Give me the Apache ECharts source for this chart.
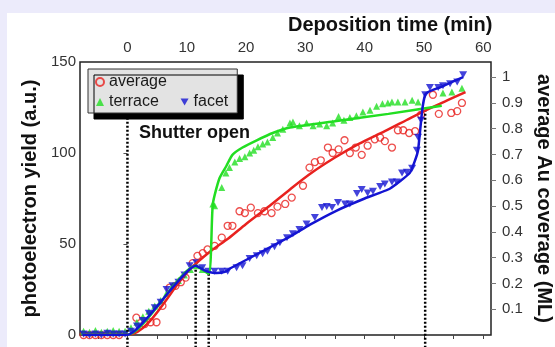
<!DOCTYPE html>
<html>
<head>
<meta charset="utf-8">
<script src="https://cdn.jsdelivr.net/npm/echarts@6/dist/echarts.min.js"></script>
<style>
html, body { margin: 0; padding: 0; background: #ecebfb; }
#panel { position: absolute; left: 7px; top: 13px; width: 548px; height: 334px; background: #fff; }
#chart { position: absolute; left: 0; top: 0; width: 555px; height: 347px; }
</style>
</head>
<body>
<div id="panel"></div>
<div id="chart"></div>
<script>
// measured points [time (min), yield (a.u.)]
var avg_points = [
    [-7.4, 0], [-6.4, 0], [-5.4, 0], [-4.4, 0], [-3.4, 0], [-2.4, 0], [-1.4, 0],
    [1.5, 9.5], [2.9, 6], [3.9, 7], [4.9, 7], [5.9, 16], [7.1, 26], [8.1, 27], [9, 29],
    [9.8, 31.5], [11, 39.5], [11.8, 43.5], [12.7, 45], [13.5, 47], [14.7, 49], [15.9, 53.5],
    [16.9, 60], [17.7, 60], [18.9, 68], [19.8, 67], [20.8, 70], [22, 67], [23.1, 68],
    [24.3, 67], [25.3, 70.5], [26.6, 72], [27.7, 75.5], [29.6, 82], [30.7, 92], [31.6, 95],
    [32.6, 96], [33.8, 103], [34.6, 100], [35.6, 102], [36.6, 107], [37.5, 100], [38.5, 103],
    [39.5, 99], [40.5, 104], [41.7, 107.5], [42.6, 108.5], [43.4, 106.5], [44.6, 103],
    [45.6, 112.5], [46.5, 112.5], [47.5, 111], [48.5, 112], [49.5, 121], [51.5, 132],
    [52.5, 121.5], [54.6, 122], [55.6, 123], [56.4, 127.5]
];
var terrace_points = [
    [-7.4, 2], [-6.4, 1.5], [-5.4, 2.5], [-4.4, 1.5], [-3.4, 2], [-2.4, 2.5], [-1.4, 2], [-0.4, 2],
    [0.6, 4], [1.6, 7], [2.6, 10], [3.6, 13], [4.6, 16], [5.6, 19], [6.6, 23], [7.6, 27],
    [8.6, 30], [9.6, 33], [10.6, 36], [11.6, 38], [12.6, 36], [14.4, 72], [14.7, 71],
    [15.9, 81], [16.6, 89], [17.2, 92], [18.1, 95], [18.9, 97], [19.8, 98], [20.6, 100],
    [21.3, 101.5], [22, 103.5], [22.8, 105], [23.6, 106], [24.5, 108.5], [25.3, 111],
    [26.2, 113], [27.4, 116.5], [27.9, 117], [29, 115], [30.2, 116.5], [31.3, 115],
    [32.4, 116], [33.6, 115], [34.6, 116.5], [35.6, 120], [36.5, 118], [37.5, 119.5],
    [38.6, 120.5], [39.7, 122.5], [40.9, 123.5], [42, 125.7], [43, 127], [43.9, 127.5],
    [44.6, 128], [45.6, 128], [46.8, 128], [48, 129], [49, 128], [53.2, 133], [54.7, 133.5],
    [56.4, 135.6]
];
var facet_points = [
    [-7.4, 0.5], [-6.4, 0], [-5.4, 0.5], [-4.4, 0], [-3.4, 1], [-2.4, 0.5], [-1.4, 0.5], [-0.4, 0.5],
    [0.6, 2], [1.6, 5], [2.6, 8], [3.6, 12], [4.6, 15], [5.6, 18], [6.6, 25], [7.6, 27],
    [8.6, 29], [9.6, 33], [10.5, 38], [11.6, 39.7], [12.6, 37], [13.6, 35], [14.7, 35],
    [15.9, 35], [16.9, 35], [18.4, 37], [19.4, 38], [20.6, 42], [21.8, 43.6], [22.8, 44.7],
    [23.6, 46], [24.8, 48.5], [25.7, 50.7], [26.9, 53.5], [27.9, 55.7], [29, 58], [30.2, 61],
    [31.6, 64.5], [32.8, 70], [33.6, 70.6], [34.5, 70], [35.5, 72.8], [36.7, 72], [37.5, 72],
    [38.7, 77.8], [39.5, 80], [40.5, 78], [41.4, 79], [42.6, 81.6], [43.4, 83], [44.6, 84],
    [45.4, 84], [46.3, 89], [47.1, 89.4], [48, 91.6], [48.8, 101.5], [49, 108.6], [49.5, 118],
    [50.2, 132], [51, 136], [52.4, 136], [53.2, 137], [54.4, 138], [55.6, 139], [56.6, 143]
];

// fitted curves
var avg_fit = [
    [-7.5, 0], [0, 0], [10.5, 36], [14, 46], [17, 53], [20, 61], [24, 71], [27.4, 80],
    [31, 89], [35, 97.5], [39, 105], [43.4, 112], [47, 118], [50, 123], [54, 129], [57, 133.5]
];
var terrace_fit = [
    [-7.5, 0], [0, 0], [11.5, 38], [13.7, 33.6], [14.4, 72], [15.5, 86], [16.7, 93],
    [17.7, 99], [19.4, 103], [21.8, 107], [24.5, 111], [27.4, 114], [35, 117.5],
    [44, 121.5], [53, 126]
];
var facet_fit = [
    [-7.5, 0], [0, 0], [11.5, 38], [13.3, 35], [15, 34], [16.7, 35], [17.2, 36.4],
    [27.4, 54], [30.7, 60.5], [35.3, 68.4], [40, 75], [44.3, 80.5], [47.6, 89], [48.5, 96],
    [49, 101.5], [49.7, 123.5], [50.2, 132], [50.7, 133.5], [53, 136.5], [56.6, 141.7]
];

// dotted marker lines: time and top end (a.u.)
var marker_times = [0, 11.5, 13.7, 50.2];
var marker_tops = [121, 37, 34, 123.5];

var time_labels = [0, 10, 20, 30, 40, 50, 60];
var time_ticks = [-5, 0, 5, 10, 15, 20, 25, 30, 35, 40, 45, 50, 55, 60];
var coverage_labels = [0.1, 0.2, 0.3, 0.4, 0.5, 0.6, 0.7, 0.8, 0.9, 1];

var marker_data = [];
for (var i = 0; i < marker_times.length; i++) {
    marker_data.push([marker_times[i], -7]);
    marker_data.push([marker_times[i], marker_tops[i]]);
    marker_data.push([marker_times[i], '-']);
}

var font = "'Liberation Sans', Arial, sans-serif";
var red = '#e8221f', green = '#22de22', blue = '#1414d2';
var down_tri = 'path://M0,0 L10,0 L5,9 Z';

var myChart = echarts.init(document.getElementById('chart'));

var option = {
    backgroundColor: 'transparent',
    animation: false,
    textStyle: { fontFamily: font },
    title: [
	{ text: 'Deposition time (min)', left: 283, top: 10,
	  textStyle: { fontFamily: font, fontSize: 20, fontWeight: 'bold', color: '#111' } },
	{ text: 'Shutter open', left: 134, top: 119,
	  textStyle: { fontFamily: font, fontSize: 18, fontWeight: 'bold', color: '#111' } }
    ],
    legend: {
	data: ['average', '', 'terrace', 'facet'],
	left: 88, top: 69,
	orient: 'horizontal',
	padding: [5, 9, 3, 7],
	itemGap: 4,
	itemWidth: 8, itemHeight: 8,
	backgroundColor: '#e3e3e3',
	borderColor: '#333', borderWidth: 1, borderRadius: 0,
	shadowColor: '#000', shadowBlur: 0, shadowOffsetX: 6, shadowOffsetY: 6,
	formatter: function (name) { return name == 'terrace' ? name + '    ' : name; },
	textStyle: { fontFamily: font, fontSize: 16, lineHeight: 16, color: '#1a1a1a' }
    },
    grid: {
	left: 80, right: 64, top: 62, bottom: 12,
	show: true, borderColor: '#222', borderWidth: 1.5, backgroundColor: 'transparent',
	outerBoundsMode: 'none'
    },
    xAxis: {
	type: 'value', position: 'top',
	min: -8, max: 61.3,
	axisLine: { show: false },
	splitLine: { show: false },
	axisTick: { show: true, inside: true, length: 4, customValues: time_ticks,
		    lineStyle: { color: '#444' } },
	axisLabel: { customValues: time_labels, margin: 7, fontSize: 15, color: '#333', fontFamily: font }
    },
    yAxis: [
	{
	    type: 'value', min: 0, max: 150, interval: 50,
	    name: 'photoelectron yield (a.u.)', nameLocation: 'middle', nameGap: 30,
	    nameTextStyle: { fontFamily: font, fontSize: 20, fontWeight: 'bold', color: '#111' },
	    axisLine: { show: false },
	    splitLine: { show: false },
	    axisTick: { show: true, length: 4, lineStyle: { color: '#555' } },
	    axisLabel: { margin: 4, fontSize: 15, color: '#333', fontFamily: font }
	},
	{
	    type: 'value', position: 'right', min: 0, max: 1.058,
	    name: 'average Au coverage (ML)', nameLocation: 'middle', nameGap: 40, nameRotate: -90,
	    nameTextStyle: { fontFamily: font, fontSize: 20, fontWeight: 'bold', color: '#111' },
	    axisLine: { show: false },
	    splitLine: { show: false },
	    axisTick: { show: true, length: 5, customValues: coverage_labels, lineStyle: { color: '#777' } },
	    axisLabel: { customValues: coverage_labels, margin: 11, fontSize: 15, color: '#333', fontFamily: font }
	}
    ],
    series: [
	{ name: 'marker lines', type: 'line', data: marker_data, clip: false, silent: true,
	  symbol: 'none', connectNulls: false,
	  lineStyle: { color: '#000', width: 2.5, type: [2, 2] } },
	{ name: 'average', type: 'scatter', data: avg_points, symbol: 'circle', symbolSize: 7,
	  itemStyle: { color: 'transparent', borderColor: red, borderWidth: 1.3 } },
	{ name: 'terrace', type: 'scatter', data: terrace_points, symbol: 'triangle', symbolSize: 7,
	  itemStyle: { color: green } },
	{ name: 'facet', type: 'scatter', data: facet_points, symbol: down_tri, symbolSize: [8, 7],
	  itemStyle: { color: blue } },
	{ name: 'average fit', type: 'line', data: avg_fit, symbol: 'none', smooth: 0.3,
	  lineStyle: { color: red, width: 2.5 } },
	{ name: 'terrace fit', type: 'line', data: terrace_fit, symbol: 'none', smooth: 0.2,
	  lineStyle: { color: green, width: 2.5 } },
	{ name: 'facet fit', type: 'line', data: facet_fit, symbol: 'none', smooth: 0.15,
	  lineStyle: { color: blue, width: 2.5 } }
    ]
};

myChart.setOption(option);
</script>
</body>
</html>
